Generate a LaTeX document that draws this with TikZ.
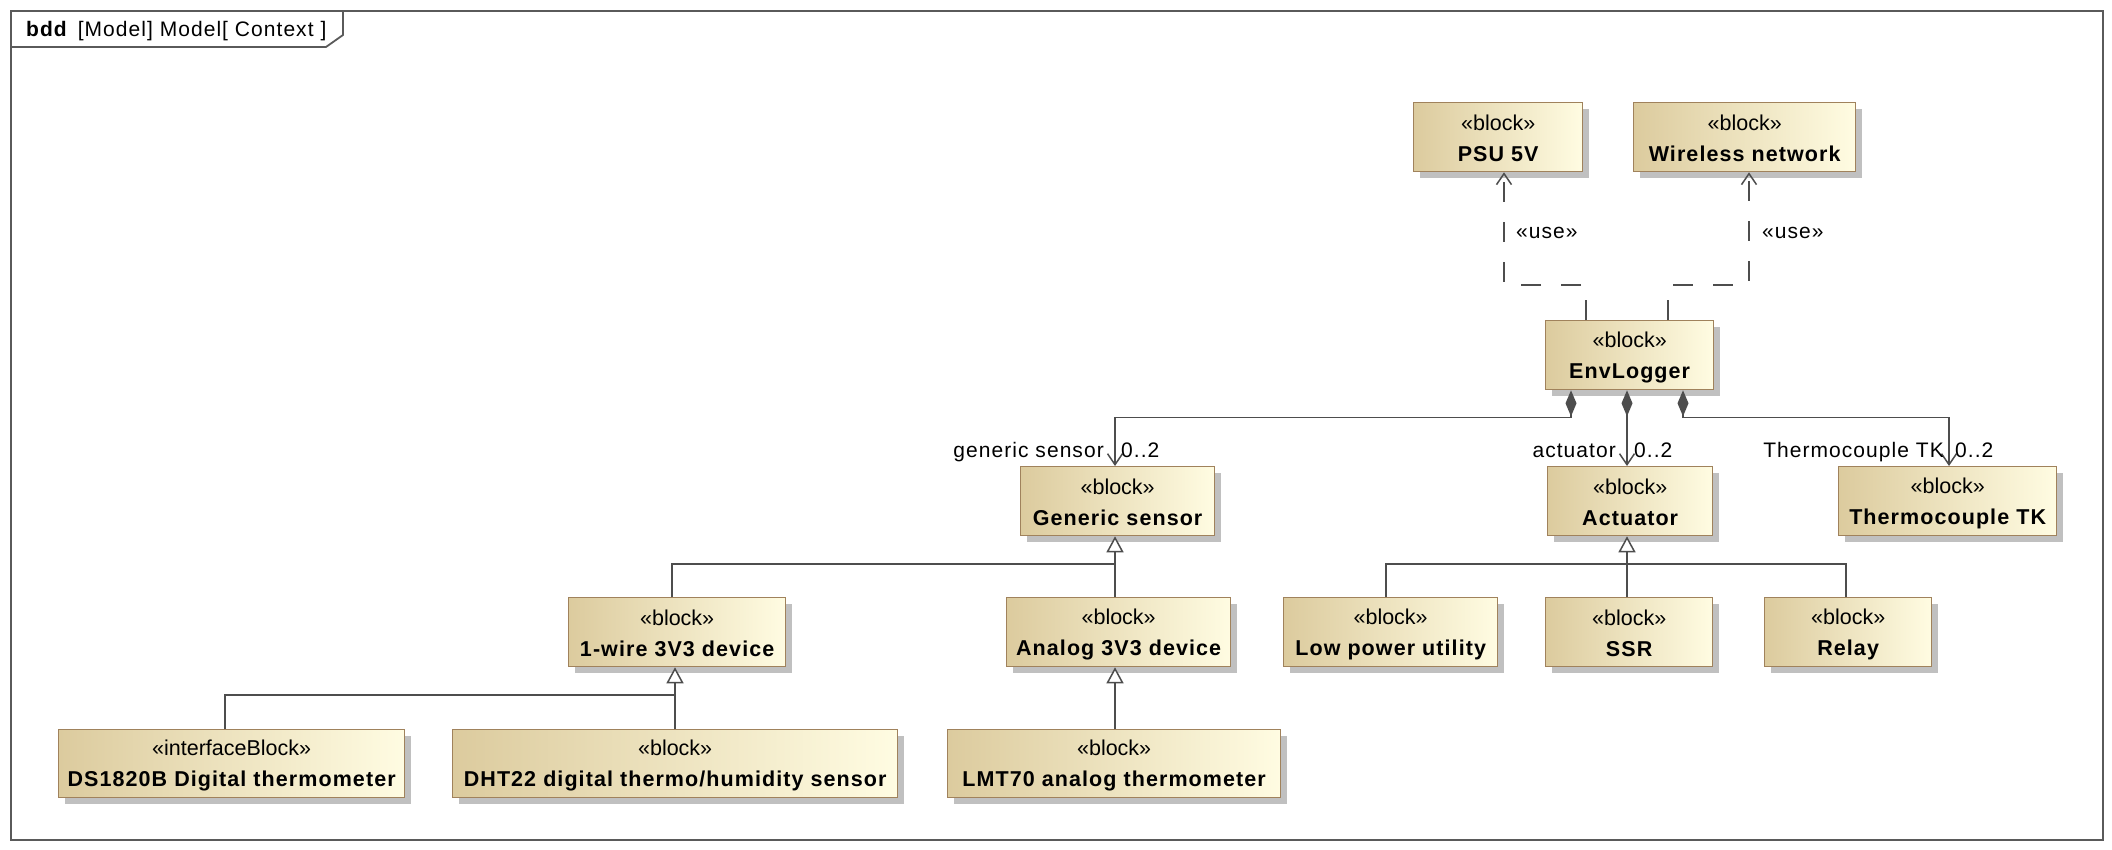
\documentclass[tikz,border=0pt]{standalone}
\usepackage{fontspec}
\setmainfont{Liberation Sans}
\newfontfamily\nmfont[LetterSpace=5]{Liberation Sans}
\usetikzlibrary{arrows.meta,shadows,calc}
\definecolor{tanL}{RGB}{220,203,158}
\definecolor{tanR}{RGB}{255,252,226}
\definecolor{bordC}{RGB}{160,130,92}
\definecolor{shadC}{RGB}{192,192,192}
\definecolor{lineC}{RGB}{77,77,77}
\definecolor{frameC}{RGB}{90,90,90}
\newcommand{\blocktext}[2]{\rule{0pt}{20pt}«#1»\\{\nmfont\bfseries #2}\rule[-2pt]{0pt}{2pt}}
\begin{document}
\begin{tikzpicture}[x=1pt,y=-1pt,
  blk/.style={draw=bordC, line width=1.3pt, left color=tanL, right color=tanR,
    anchor=north west, inner sep=0pt, align=center,
    font=\fontsize{21.5}{31}\selectfont,
    drop shadow={shadow xshift=6pt, shadow yshift=-6pt, fill=shadC, opacity=1}},
  conn/.style={draw=lineC, line width=1.5pt},
  comp/.style={conn, {Diamond[length=26pt,width=11pt]}-{Straight Barb[length=11pt,width=15pt]}},
  genarr/.style={conn, -{Triangle[open, length=16pt, width=17pt, fill=white]}},
  usedep/.style={conn, dash pattern=on 20pt off 20pt, -{Straight Barb[length=11pt,width=15pt]}},
  lbl/.style={font=\fontsize{21}{25}\selectfont\nmfont, inner sep=0pt},
  frame/.style={draw=frameC, line width=1.8pt}
]
\useasboundingbox (0,0) rectangle (2112,850);
\fill[white] (0,0) rectangle (2112,850);
% frame
\draw[frame] (11,11) rectangle (2103,840);
\draw[frame] (11,47) -- (326,47) -- (343,35) -- (343,11);
\node[anchor=base west, inner sep=0pt, font=\fontsize{21}{24}\selectfont] (ttl) at (26,37)
  {{\nmfont\bfseries bdd}\hspace{11pt}{\nmfont [Model] Model[ Context ]}};

% blocks
\node[blk, minimum width=169pt, minimum height=69pt] (psu) at (1413,102) {\blocktext{block}{PSU 5V}};
\node[blk, minimum width=222pt, minimum height=69pt] (wl) at (1633,102) {\blocktext{block}{Wireless network}};
\node[blk, minimum width=168pt, minimum height=69pt] (env) at (1545,320) {\blocktext{block}{EnvLogger}};
\node[blk, minimum width=194pt, minimum height=69pt] (gen) at (1020,466) {\blocktext{block}{Generic sensor}};
\node[blk, minimum width=165pt, minimum height=69pt] (act) at (1547,466) {\blocktext{block}{Actuator}};
\node[blk, minimum width=218pt, minimum height=69pt] (tk) at (1838,466) {\blocktext{block}{Thermocouple TK}};
\node[blk, minimum width=217pt, minimum height=69pt] (ow) at (568,597) {\blocktext{block}{1-wire 3V3 device}};
\node[blk, minimum width=224pt, minimum height=69pt] (ana) at (1006,597) {\blocktext{block}{Analog 3V3 device}};
\node[blk, minimum width=214pt, minimum height=69pt] (lpu) at (1283,597) {\blocktext{block}{Low power utility}};
\node[blk, minimum width=167pt, minimum height=69pt] (ssr) at (1545,597) {\blocktext{block}{SSR}};
\node[blk, minimum width=167pt, minimum height=69pt] (rel) at (1764,597) {\blocktext{block}{Relay}};
\node[blk, minimum width=346pt, minimum height=68pt] (ds) at (58,729) {\blocktext{interfaceBlock}{DS1820B Digital thermometer}};
\node[blk, minimum width=445pt, minimum height=68pt] (dht) at (452,729) {\blocktext{block}{DHT22 digital thermo/humidity sensor}};
\node[blk, minimum width=333pt, minimum height=68pt] (lmt) at (947,729) {\blocktext{block}{LMT70 analog thermometer}};

% junction coordinates
\coordinate (j1) at (1115,564);
\coordinate (j2) at (675,695);
\coordinate (j3) at (1627,564);

% use dependencies
\draw[usedep] ($(env.north west)+(41,0)$) -- ++(0,-35) -| ($(psu.south west)+(91,0)$);
\draw[usedep] ($(env.north west)+(123,0)$) -- ++(0,-35) -| ($(wl.south west)+(116,0)$);
\node[lbl, anchor=base west] (use1) at (1516,239) {«use»};
\node[lbl, anchor=base west] (use2) at (1762,239) {«use»};

% compositions
\draw[comp] ($(env.south west)+(26,0)$) -- ++(0,27) -| ($(gen.north west)+(95,0)$);
\draw[comp] ($(env.south west)+(82,0)$) -- ($(act.north west)+(80,0)$);
\draw[comp] ($(env.south west)+(138,0)$) -- ++(0,27) -| ($(tk.north west)+(111,0)$);
\node[lbl, anchor=base east] (r1) at (1104,457) {generic sensor};
\node[lbl, anchor=base west] (m1) at (1121,457) {0..2};
\node[lbl, anchor=base east] (r2) at (1616,457) {actuator};
\node[lbl, anchor=base west] (m2) at (1634,457) {0..2};
\node[lbl, anchor=base east] (r3) at (1944,457) {Thermocouple TK};
\node[lbl, anchor=base west] (m3) at (1955,457) {0..2};

% generalizations
\draw[genarr] ($(ana.north west)+(109,0)$) -- ($(gen.south west)+(95,0)$);
\draw[conn] ($(ow.north west)+(104,0)$) |- (j1);
\draw[genarr] ($(dht.north west)+(223,0)$) -- ($(ow.south west)+(107,0)$);
\draw[conn] ($(ds.north west)+(167,0)$) |- (j2);
\draw[genarr] ($(lmt.north west)+(168,0)$) -- ($(ana.south west)+(109,0)$);
\draw[genarr] ($(ssr.north west)+(82,0)$) -- ($(act.south west)+(80,0)$);
\draw[conn] ($(lpu.north west)+(103,0)$) |- (j3);
\draw[conn] ($(rel.north west)+(82,0)$) |- (j3);
\end{tikzpicture}
\end{document}
